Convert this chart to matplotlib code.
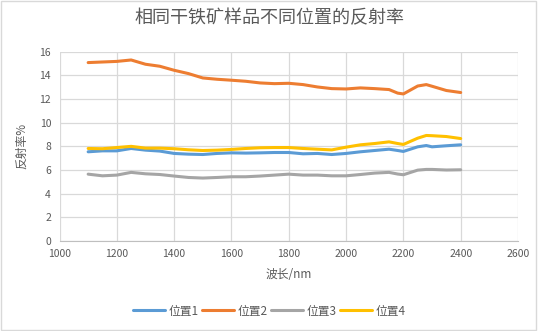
import matplotlib.pyplot as plt
import numpy as np

plt.rcParams['font.family'] = ['Noto Sans CJK SC', 'DejaVu Sans']

# wavelength (nm)
wl = [1100, 1150, 1200, 1250, 1300, 1350, 1400, 1450, 1500, 1550, 1600, 1650,
      1700, 1750, 1800, 1850, 1900, 1950, 2000, 2050, 2100, 2150, 2180, 2200,
      2250, 2280, 2300, 2350, 2400]

pos1 = [7.54, 7.62, 7.62, 7.82, 7.68, 7.60, 7.40, 7.34, 7.31, 7.40, 7.45, 7.43,
        7.45, 7.48, 7.48, 7.37, 7.40, 7.31, 7.40, 7.54, 7.65, 7.76, 7.65, 7.57,
        7.96, 8.07, 7.96, 8.05, 8.13]
pos2 = [15.08, 15.13, 15.18, 15.30, 14.94, 14.77, 14.43, 14.15, 13.78, 13.67, 13.59, 13.50,
        13.36, 13.30, 13.33, 13.22, 13.02, 12.88, 12.85, 12.94, 12.88, 12.80, 12.50, 12.43,
        13.10, 13.22, 13.08, 12.72, 12.55]
pos3 = [5.65, 5.51, 5.57, 5.80, 5.68, 5.62, 5.49, 5.37, 5.32, 5.37, 5.43, 5.43,
        5.49, 5.57, 5.65, 5.57, 5.57, 5.51, 5.51, 5.62, 5.74, 5.80, 5.66, 5.60,
        5.99, 6.05, 6.05, 6.00, 6.02]
pos4 = [7.82, 7.80, 7.90, 8.00, 7.85, 7.85, 7.80, 7.71, 7.65, 7.68, 7.74, 7.82,
        7.88, 7.90, 7.90, 7.82, 7.76, 7.70, 7.93, 8.13, 8.24, 8.38, 8.24, 8.16,
        8.69, 8.92, 8.90, 8.83, 8.66]

series = [pos1, pos2, pos3, pos4]
names = ['位置1', '位置2', '位置3', '位置4']
colors = ['#5B9BD5', '#ED7D31', '#A5A5A5', '#FFC000']

fig = plt.figure(figsize=(5.38, 3.31), dpi=100)
ax = fig.add_axes([59.5 / 538, 1 - 241 / 331, (518 - 59.5) / 538, (241 - 51.7) / 331])

for vals, name, c in zip(series, names, colors):
    ax.plot(wl, vals, color=c, lw=2.2, label=name, solid_capstyle='round')

ax.set_xlim(1000, 2600)
ax.set_ylim(0, 16)
ax.set_xticks(np.arange(1000, 2601, 200))
ax.set_yticks(np.arange(0, 17, 2))
ax.grid(True, color='#D9D9D9', lw=0.9)
ax.set_axisbelow(True)
for s in ['top', 'right', 'left']:
    ax.spines[s].set_visible(False)
ax.spines['bottom'].set_color('#BFBFBF')
ax.tick_params(length=0, labelsize=7.5, labelcolor='#595959', pad=6)

ax.set_xlabel('波长/nm', fontsize=8.5, color='#595959', labelpad=6)
ax.set_ylabel('反射率%', fontsize=8.5, color='#595959', labelpad=8)

fig.suptitle('相同干铁矿样品不同位置的反射率', y=1 - 18 / 331, va='center',
             fontsize=13, color='#595959')

fig.legend(loc='center', bbox_to_anchor=(0.5, 1 - 311 / 331), ncol=4, frameon=False,
           fontsize=8.5, handlelength=2.7, handletextpad=0.3, columnspacing=0.3,
           labelcolor='#595959')

fig.patches.append(plt.Rectangle((0.002, 0.003), 0.995, 0.994, transform=fig.transFigure,
                                 fill=False, edgecolor='#D9D9D9', lw=1))

fig.savefig('out.png', dpi=100)
